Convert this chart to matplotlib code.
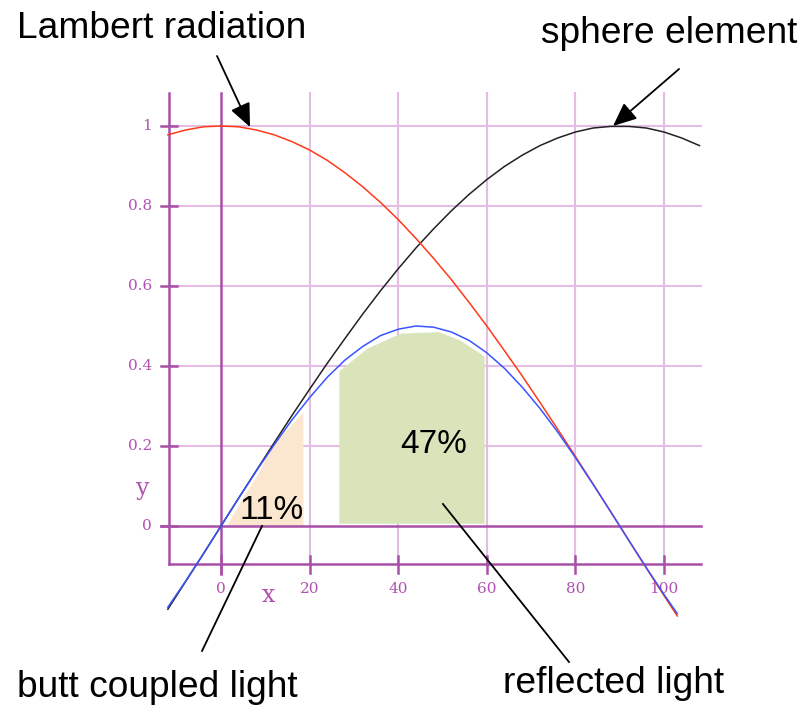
import matplotlib
matplotlib.use("Agg")
import matplotlib.pyplot as plt

# angle samples (degrees)
angle = [-12, -8, -4, 0, 4, 8, 12, 16, 20, 24, 28, 32, 36, 40, 44, 48, 52, 56,
         60, 64, 68, 72, 76, 80, 84, 88, 92, 96, 100, 104, 108]
sphere = [-0.208, -0.139, -0.070, 0.000, 0.070, 0.139, 0.208, 0.276, 0.342,
          0.407, 0.469, 0.530, 0.588, 0.643, 0.695, 0.743, 0.788, 0.829, 0.866,
          0.899, 0.927, 0.951, 0.970, 0.985, 0.995, 0.999, 0.999, 0.995, 0.985,
          0.970, 0.951]

angle_short = [-12, -8, -4, 0, 4, 8, 12, 16, 20, 24, 28, 32, 36, 40, 44, 48, 52,
               56, 60, 64, 68, 72, 76, 80, 84, 88, 92, 96, 100, 103]
lambert = [0.978, 0.990, 0.998, 1.000, 0.998, 0.990, 0.978, 0.961, 0.940, 0.914,
           0.883, 0.848, 0.809, 0.766, 0.719, 0.669, 0.616, 0.559, 0.500, 0.438,
           0.375, 0.309, 0.242, 0.174, 0.105, 0.035, -0.035, -0.105, -0.174, -0.225]
product = [-0.203, -0.138, -0.070, 0.000, 0.070, 0.138, 0.203, 0.265, 0.321,
           0.372, 0.415, 0.449, 0.476, 0.492, 0.500, 0.497, 0.485, 0.464, 0.433,
           0.394, 0.347, 0.294, 0.235, 0.171, 0.104, 0.035, -0.035, -0.104,
           -0.171, -0.219]

# shaded areas
butt_x = [1.2, 4, 8, 11.4, 16, 18.5]
butt_top = [0.0, 0.055, 0.125, 0.2, 0.255, 0.286]
refl_x = [26.6, 32.9, 40.4, 49.1, 53.9, 59.4]
refl_top = [0.388, 0.444, 0.482, 0.486, 0.465, 0.425]
refl_bottom = 0.007

xticks = [0, 20, 40, 60, 80, 100]
yticks = [0, 0.2, 0.4, 0.6, 0.8, 1]
ytick_labels = ["0", "0.2", "0.4", "0.6", "0.8", "1"]

x_lo, x_hi = -11.74, 108.4
y_lo, y_hi = -0.096, 1.0825

dark = "#a850a8"
light = "#e4bce4"
tickcol = "#b052b0"

fig = plt.figure(figsize=(8.03, 7.06), dpi=100)
ax = fig.add_axes([0, 0, 1, 1])
ax.set_xlim(-49.89, 131.38)
ax.set_ylim(-0.45, 1.315)
ax.axis("off")

# grid
for xv in xticks[1:]:
    ax.plot([xv, xv], [y_lo, y_hi], color=light, lw=1.5, zorder=1)
for yv in yticks[1:]:
    ax.plot([x_lo, x_hi], [yv, yv], color=light, lw=1.5, zorder=1)

# shaded regions
ax.fill_between(butt_x, 0, butt_top, color="#fbe6cf", lw=0, zorder=2)
ax.fill_between(refl_x, refl_bottom, refl_top, color="#d9e4bb", lw=0, zorder=2)

# axes lines
ax.plot([x_lo, x_lo], [y_lo, y_hi], color=dark, lw=1.8, zorder=3)
ax.plot([x_lo, x_hi], [y_lo, y_lo], color=dark, lw=1.8, zorder=3)
ax.plot([0, 0], [-0.12, y_hi], color=dark, lw=1.8, zorder=3)
ax.plot([-13.6, x_hi], [0, 0], color=dark, lw=1.8, zorder=3)
for yv in yticks:
    ax.plot([-13.6, -9.9], [yv, yv], color=dark, lw=1.8, zorder=3)
for xv in xticks:
    ax.plot([xv, xv], [-0.076, -0.117], color=dark, lw=1.8, zorder=3)

for yv, lab in zip(yticks, ytick_labels):
    ax.text(-15.6, yv, lab, ha="right", va="center", color=tickcol,
            family="DejaVu Serif", fontsize=11)
for xv in xticks:
    ax.text(xv, -0.1575, str(xv), ha="center", va="center", color=tickcol,
            family="DejaVu Serif", fontsize=11)
ax.text(10.6, -0.175, "x", ha="center", va="center", color=tickcol,
        family="DejaVu Serif", fontsize=17)
ax.text(-17.7, 0.0925, "y", ha="center", va="center", color=tickcol,
        family="DejaVu Serif", fontsize=17)

# curves
ax.plot(angle, sphere, color="#222222", lw=1.1, zorder=4)
ax.plot(angle_short, lambert, color="#ff3a1a", lw=1.1, zorder=4)
ax.plot(angle_short, product, color="#3a55ff", lw=1.1, zorder=5)

# labels
font = "Liberation Sans"
ax.text(-46.05, 1.22, "Lambert radiation", fontsize=26.7, family=font,
        ha="left", va="baseline")
ax.text(72.2, 1.2075, "sphere element", fontsize=26.7, family=font,
        ha="left", va="baseline")
ax.text(-46.05, -0.4275, "butt coupled light", fontsize=26.7, family=font,
        ha="left", va="baseline")
ax.text(63.66, -0.4175, "reflected light", fontsize=26.7, family=font,
        ha="left", va="baseline")
ax.text(11.4, 0.0175, "11%", fontsize=24, family=font, ha="center",
        va="baseline", zorder=6)
ax.text(48.08, 0.1825, "47%", fontsize=24, family=font, ha="center",
        va="baseline", zorder=6)

arrow = dict(arrowstyle="-|>,head_length=0.8,head_width=0.35", color="black",
             lw=1.3, mutation_scale=18, shrinkA=0, shrinkB=0)
ax.annotate("", xy=(6.55, 0.9975), xytext=(-0.9, 1.175), arrowprops=arrow,
            zorder=7)
ax.annotate("", xy=(88.5, 1.0), xytext=(103.4, 1.1425), arrowprops=arrow,
            zorder=7)
ax.plot([9.26, -4.29], [0.0, -0.3125], color="black", lw=1.3, zorder=7)
ax.plot([50.1, 78.56], [0.055, -0.34], color="black", lw=1.3, zorder=7)

fig.savefig("out.png", dpi=100)
